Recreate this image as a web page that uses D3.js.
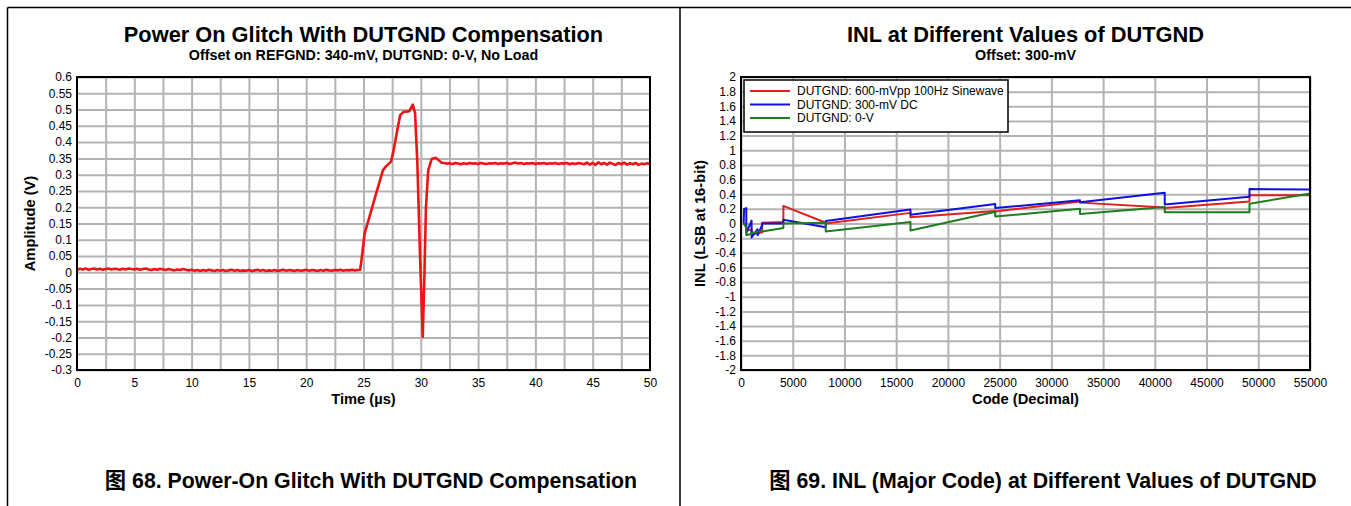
<!DOCTYPE html>
<html><head><meta charset="utf-8">
<script src="https://cdn.jsdelivr.net/npm/d3@7/dist/d3.min.js"></script>
<style>
body{margin:0;background:#fff}
svg{display:block}
text{font-family:"Liberation Sans",Arial,"Noto Sans CJK SC",sans-serif;fill:#000}
</style>
</head><body>
<svg id="chart" width="1351" height="506"></svg>
<script>
// ---------- Figure 68 data ----------
const glitchTitle = "Power On Glitch With DUTGND Compensation";
const glitchSubtitle = "Offset on REFGND: 340-mV, DUTGND: 0-V, No Load";
const glitchXLabel = "Time (\u00b5s)";
const glitchYLabel = "Amplitude (V)";
const glitchCaption = "\u56fe 68. Power-On Glitch With DUTGND Compensation";
const glitchXTicks = [0,5,10,15,20,25,30,35,40,45,50];
const glitchXGrid = [2.5,5,7.5,10,12.5,15,17.5,20,22.5,25,27.5,30,32.5,35,37.5,40,42.5,45,47.5];
const glitchYTicks = [0.6,0.55,0.5,0.45,0.4,0.35,0.3,0.25,0.2,0.15,0.1,0.05,0,-0.05,-0.1,-0.15,-0.2,-0.25,-0.3];
const glitchTime = [
 0,0.25,0.5,0.75,1,1.25,1.5,1.75,2,2.25,2.5,2.75,3,3.25,3.5,3.75,4,4.25,4.5,4.75,
 5,5.25,5.5,5.75,6,6.25,6.5,6.75,7,7.25,7.5,7.75,8,8.25,8.5,8.75,9,9.25,9.5,9.75,
 10,10.25,10.5,10.75,11,11.25,11.5,11.75,12,12.25,12.5,12.75,13,13.25,13.5,13.75,14,14.25,14.5,14.75,
 15,15.25,15.5,15.75,16,16.25,16.5,16.75,17,17.25,17.5,17.75,18,18.25,18.5,18.75,19,19.25,19.5,19.75,
 20,20.25,20.5,20.75,21,21.25,21.5,21.75,22,22.25,22.5,22.75,23,23.25,23.5,23.75,24,24.25,24.5,24.7,
 24.8,25.1,25.6,26.15,26.7,27.0,27.4,27.6,27.9,28.2,28.5,29.0,29.3,29.5,29.7,29.95,30.17,30.3,30.45,30.65,30.95,31.3,31.8,
 32,32.25,32.5,32.75,33,33.25,33.5,33.75,34,34.25,34.5,34.75,35,35.25,35.5,35.75,36,36.25,36.5,36.75,
 37,37.25,37.5,37.75,38,38.25,38.5,38.75,39,39.25,39.5,39.75,40,40.25,40.5,40.75,41,41.25,41.5,41.75,
 42,42.25,42.5,42.75,43,43.25,43.5,43.75,44,44.25,44.5,44.75,45,45.25,45.5,45.75,46,46.25,46.5,46.75,
 47,47.25,47.5,47.75,48,48.25,48.5,48.75,49,49.25,49.5,49.75,50
];
const glitchAmplitude = [
 0.008,0.011,0.009,0.012,0.008,0.010,0.012,0.009,0.011,0.008,0.010,0.012,0.009,0.011,0.010,0.008,0.011,0.009,0.012,0.010,
 0.009,0.011,0.008,0.010,0.012,0.009,0.007,0.010,0.008,0.011,0.009,0.007,0.010,0.008,0.006,0.009,0.007,0.010,0.008,0.006,
 0.008,0.005,0.007,0.004,0.007,0.005,0.008,0.006,0.004,0.007,0.005,0.007,0.004,0.006,0.008,0.005,0.007,0.004,0.006,0.005,
 0.007,0.004,0.006,0.008,0.005,0.007,0.004,0.006,0.005,0.007,0.004,0.006,0.008,0.005,0.007,0.006,0.004,0.007,0.005,0.006,
 0.008,0.005,0.007,0.006,0.004,0.007,0.005,0.008,0.006,0.005,0.007,0.006,0.008,0.005,0.007,0.006,0.008,0.006,0.007,0.007,
 0.03,0.12,0.18,0.248,0.314,0.327,0.34,0.37,0.427,0.483,0.493,0.495,0.515,0.489,0.335,0.03,-0.198,-0.03,0.2,0.314,0.348,0.352,0.337,
 0.336,0.334,0.335,0.333,0.336,0.334,0.332,0.335,0.333,0.336,0.334,0.335,0.333,0.336,0.334,0.333,0.335,0.334,0.336,0.333,
 0.335,0.334,0.336,0.333,0.335,0.337,0.334,0.336,0.333,0.335,0.334,0.336,0.333,0.335,0.334,0.336,0.333,0.335,0.334,0.336,
 0.333,0.335,0.334,0.336,0.332,0.335,0.333,0.336,0.334,0.332,0.337,0.331,0.336,0.330,0.338,0.332,0.336,0.331,0.337,0.333,
 0.330,0.336,0.332,0.337,0.331,0.335,0.332,0.336,0.330,0.334,0.332,0.335,0.333
];

// ---------- Figure 69 data ----------
const inlTitle = "INL at Different Values of DUTGND";
const inlSubtitle = "Offset: 300-mV";
const inlXLabel = "Code (Decimal)";
const inlYLabel = "INL (LSB at 16-bit)";
const inlCaption = "\u56fe 69. INL (Major Code) at Different Values of DUTGND";
const inlXTicks = [0,5000,10000,15000,20000,25000,30000,35000,40000,45000,50000,55000];
const inlYTicks = [2,1.8,1.6,1.4,1.2,1,0.8,0.6,0.4,0.2,0,-0.2,-0.4,-0.6,-0.8,-1,-1.2,-1.4,-1.6,-1.8,-2];
const inlSeriesNames = ["DUTGND: 600-mVpp 100Hz Sinewave","DUTGND: 300-mV DC","DUTGND: 0-V"];
const inlSeriesColors = ["#e01f1f","#1010e0","#1e7d1e"];
const inlSineCode = [256,511,512,1023,1024,2047,2048,4095,4096,8191,8192,16383,16384,24575,24576,32767,32768,40959,40960,49151,49152,55000];
const inlSineValue = [0.0,-0.05,-0.1,-0.08,-0.15,-0.12,0.01,0.02,0.24,0.01,0.0,0.145,0.085,0.17,0.165,0.3,0.285,0.22,0.21,0.3,0.385,0.385];
const inlDcCode = [256,300,511,512,1023,1024,1600,1601,2047,2048,4095,4096,8191,8192,16383,16384,24575,24576,32767,32768,40959,40960,49151,49152,55000];
const inlDcValue = [0.0,0.2,0.21,-0.13,0.04,-0.19,-0.08,-0.16,-0.02,0.0,0.0,0.05,-0.05,0.035,0.19,0.12,0.265,0.21,0.318,0.29,0.42,0.26,0.365,0.47,0.465];
const inlZeroCode = [256,511,512,1023,1024,2047,2048,4095,4096,8191,8192,16383,16384,24575,24576,32767,32768,40959,40960,49151,49152,55000];
const inlZeroValue = [0.0,-0.05,-0.16,-0.14,-0.13,-0.1,-0.11,-0.06,0.0,0.01,-0.11,0.02,-0.095,0.16,0.095,0.2,0.13,0.225,0.155,0.155,0.27,0.41];

// ---------- drawing ----------
const svg = d3.select("#chart");
const GRID = "#b3b3b3";

// outer frame lines
svg.append("line").attr("x1",7.5).attr("y1",7.5).attr("x2",1351).attr("y2",7.5).attr("stroke","#000").attr("stroke-width",1.5);
svg.append("line").attr("x1",7.5).attr("y1",7.5).attr("x2",7.5).attr("y2",506).attr("stroke","#000").attr("stroke-width",1.5);
svg.append("line").attr("x1",680).attr("y1",7.5).attr("x2",680).attr("y2",506).attr("stroke","#000").attr("stroke-width",1.5);

function panel(o){
  const x = d3.scaleLinear().domain(o.xDomain).range([o.left,o.right]);
  const y = d3.scaleLinear().domain(o.yDomain).range([o.bottom,o.top]);
  const g = svg.append("g");
  const w = o.right-o.left, h = o.bottom-o.top;
  // grid
  g.append("g").attr("transform",`translate(0,${o.bottom})`)
    .call(d3.axisBottom(x).tickValues(o.xGrid).tickSize(-h).tickFormat(""))
    .call(s=>{s.select(".domain").remove();s.selectAll("line").attr("stroke",GRID).attr("stroke-width",2);});
  g.append("g").attr("transform",`translate(${o.left},0)`)
    .call(d3.axisLeft(y).tickValues(o.yGrid).tickSize(-w).tickFormat(""))
    .call(s=>{s.select(".domain").remove();s.selectAll("line").attr("stroke",GRID).attr("stroke-width",2);});
  // tick labels
  g.append("g").attr("transform",`translate(0,${o.bottom})`)
    .call(d3.axisBottom(x).tickValues(o.xTicks).tickSize(0).tickPadding(8).tickFormat(o.xFmt))
    .call(s=>{s.select(".domain").remove();s.selectAll("text").attr("font-size",12).attr("font-family",null);});
  g.append("g").attr("transform",`translate(${o.left},0)`)
    .call(d3.axisLeft(y).tickValues(o.yTicks).tickSize(0).tickPadding(5).tickFormat(o.yFmt))
    .call(s=>{s.select(".domain").remove();s.selectAll("text").attr("font-size",12).attr("font-family",null);});
  // clip
  const cid = "clip"+o.id;
  svg.append("clipPath").attr("id",cid).append("rect").attr("x",o.left).attr("y",o.top).attr("width",w).attr("height",h);
  const line = d3.line().x(d=>x(d[0])).y(d=>y(d[1]));
  o.series.forEach(s=>{
    g.append("path").attr("clip-path",`url(#${cid})`).attr("d",line(s.pts))
      .attr("fill","none").attr("stroke",s.color).attr("stroke-width",s.width).attr("stroke-linejoin","round");
  });
  // frame
  g.append("rect").attr("x",o.left).attr("y",o.top).attr("width",w).attr("height",h)
    .attr("fill","none").attr("stroke","#000").attr("stroke-width",2);
  const cx = (o.left+o.right)/2;
  g.append("text").attr("x",cx).attr("y",41.5).attr("text-anchor","middle").attr("font-size",21.8).attr("font-weight","bold").text(o.title);
  g.append("text").attr("x",cx).attr("y",60).attr("text-anchor","middle").attr("font-size",14.3).attr("font-weight","bold").text(o.subtitle);
  g.append("text").attr("x",cx).attr("y",404).attr("text-anchor","middle").attr("font-size",14.7).attr("font-weight","bold").text(o.xLabel);
  g.append("text").attr("transform",`translate(${o.yLabelX},${(o.top+o.bottom)/2}) rotate(-90)`).attr("text-anchor","middle")
    .attr("font-size",14.7).attr("font-weight","bold").text(o.yLabel);
  g.append("text").attr("x",o.capX).attr("y",488).attr("text-anchor","middle").attr("font-size",21.3).attr("font-weight","bold").text(o.caption);
  return {x,y,g};
}

const zip = (a,b)=>a.map((v,i)=>[v,b[i]]);

panel({
  id:"a", left:77, right:650, top:77, bottom:370,
  xDomain:[0,50], yDomain:[-0.3,0.6],
  xGrid:glitchXGrid, yGrid:glitchYTicks, xTicks:glitchXTicks, yTicks:glitchYTicks,
  xFmt:d=>String(d), yFmt:d=>String(+d.toFixed(2)),
  series:[{pts:zip(glitchTime,glitchAmplitude),color:"#ec1414",width:2.6}],
  title:glitchTitle, subtitle:glitchSubtitle, xLabel:glitchXLabel, yLabel:glitchYLabel,
  yLabelX:35, caption:glitchCaption, capX:371
});

panel({
  id:"b", left:741, right:1310, top:77, bottom:370,
  xDomain:[0,55000], yDomain:[-2,2],
  xGrid:inlXTicks, yGrid:inlYTicks, xTicks:inlXTicks, yTicks:inlYTicks,
  xFmt:d=>String(d), yFmt:d=>String(+d.toFixed(1)),
  series:[
    {pts:zip(inlSineCode,inlSineValue),color:inlSeriesColors[0],width:2},
    {pts:zip(inlDcCode,inlDcValue),color:inlSeriesColors[1],width:2},
    {pts:zip(inlZeroCode,inlZeroValue),color:inlSeriesColors[2],width:2}
  ],
  title:inlTitle, subtitle:inlSubtitle, xLabel:inlXLabel, yLabel:inlYLabel,
  yLabelX:705, caption:inlCaption, capX:1043
});

// legend
const lg = svg.append("g");
lg.append("rect").attr("x",744).attr("y",80).attr("width",264).attr("height",52)
  .attr("fill","#fff").attr("stroke","#000").attr("stroke-width",1.5);
inlSeriesNames.forEach((n,i)=>{
  const yy = 91 + i*13.5;
  lg.append("line").attr("x1",750).attr("x2",790).attr("y1",yy).attr("y2",yy)
    .attr("stroke",inlSeriesColors[i]).attr("stroke-width",2);
  lg.append("text").attr("x",797).attr("y",yy+4).attr("font-size",12).text(n);
});
</script>
</body></html>
